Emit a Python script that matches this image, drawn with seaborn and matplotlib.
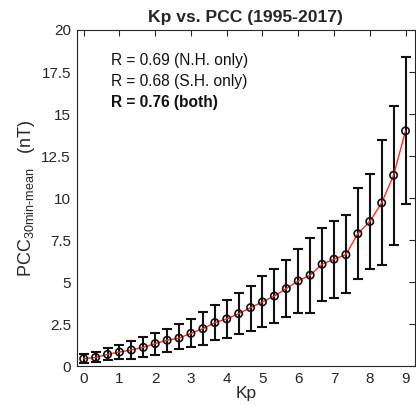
import numpy as np
import pandas as pd
import matplotlib
matplotlib.use("Agg")
import matplotlib.pyplot as plt
import seaborn as sns

kp = [0, 1/3, 2/3, 1, 4/3, 5/3, 2, 7/3, 8/3, 3, 10/3, 11/3, 4, 13/3, 14/3, 5,
      16/3, 17/3, 6, 19/3, 20/3, 7, 22/3, 23/3, 8, 25/3, 26/3, 9]
pcc_mean = [0.45, 0.53, 0.71, 0.85, 0.97, 1.13, 1.35, 1.55, 1.68, 1.96, 2.24, 2.6,
            2.82, 3.13, 3.49, 3.83, 4.18, 4.62, 5.08, 5.42, 6.07, 6.37, 6.64, 7.89,
            8.61, 9.72, 11.36, 14.0]
err_top = [0.71, 0.83, 1.07, 1.27, 1.5, 1.72, 2.0, 2.24, 2.52, 2.8, 3.23, 3.63,
           3.93, 4.38, 4.8, 5.36, 5.81, 6.31, 6.96, 7.64, 8.23, 8.65, 8.99, 10.6,
           11.45, 13.46, 15.49, 18.37]
err_bot = [0.18, 0.27, 0.36, 0.43, 0.45, 0.57, 0.69, 0.85, 1.01, 1.13, 1.27, 1.57,
           1.67, 1.9, 2.1, 2.36, 2.56, 2.93, 3.19, 3.19, 3.9, 4.08, 4.36, 5.18,
           5.77, 6.03, 7.22, 9.68]
r_labels = ["R = 0.69 (N.H. only)", "R = 0.68 (S.H. only)", "R = 0.76 (both)"]
xticks = list(range(0, 10))
yticks = [0, 2.5, 5, 7.5, 10, 12.5, 15, 17.5, 20]

sns.set_style("white")
plt.rcParams['font.family'] = ['Liberation Sans', 'DejaVu Sans']
plt.rcParams['mathtext.fontset'] = 'custom'
plt.rcParams['mathtext.rm'] = 'Liberation Sans'
plt.rcParams['mathtext.it'] = 'Liberation Sans:italic'
plt.rcParams['mathtext.bf'] = 'Liberation Sans:bold'

df = pd.DataFrame({"Kp": kp, "PCC": pcc_mean, "top": err_top, "bot": err_bot})

fig = plt.figure(figsize=(4.16, 4.05), dpi=100)
ax = fig.add_axes([0.184, 0.0955, 0.814, 0.8305])

yerr = np.vstack([df["PCC"] - df["bot"], df["top"] - df["PCC"]])
ax.errorbar(df["Kp"], df["PCC"], yerr=yerr, fmt='none', ecolor='#111111',
            elinewidth=1.5, capsize=3.5, capthick=1.5, zorder=2)
sns.lineplot(data=df, x="Kp", y="PCC", color='#ff2a1a', linewidth=1.0, ax=ax,
             zorder=3, sort=True)
sns.scatterplot(data=df, x="Kp", y="PCC", marker='o', s=28, facecolor='none',
                edgecolor='#111111', linewidth=1.2, ax=ax, zorder=4)

ax.set_xlim(-0.2, 9.27)
ax.set_ylim(0, 20)
ax.set_xticks(xticks)
ax.set_yticks(yticks)
ax.set_yticklabels(["0", "2.5", "5", "7.5", "10", "12.5", "15", "17.5", "20"])
ax.tick_params(direction='in', length=4, width=0.8, colors='#262626',
               labelsize=11, top=True, right=True, pad=4)
for s in ax.spines.values():
    s.set_color('#262626')
    s.set_linewidth(0.8)

ax.set_title("Kp vs. PCC (1995-2017)", fontsize=12.6, fontweight='bold', pad=6)
ax.set_xlabel("Kp", fontsize=12.5, labelpad=0)
ax.set_ylabel(r"PCC$_{\mathregular{30min}\text{-}\mathregular{mean}}$   (nT)",
              fontsize=13, labelpad=3)

ys = [0.8955, 0.833, 0.771]
for i, (t, y) in enumerate(zip(r_labels, ys)):
    ax.text(0.103, y, t, transform=ax.transAxes, fontsize=11.2, va='baseline',
            ha='left', fontweight='bold' if i == 2 else 'normal', color='#111111')

fig.savefig("out.png", dpi=100)
